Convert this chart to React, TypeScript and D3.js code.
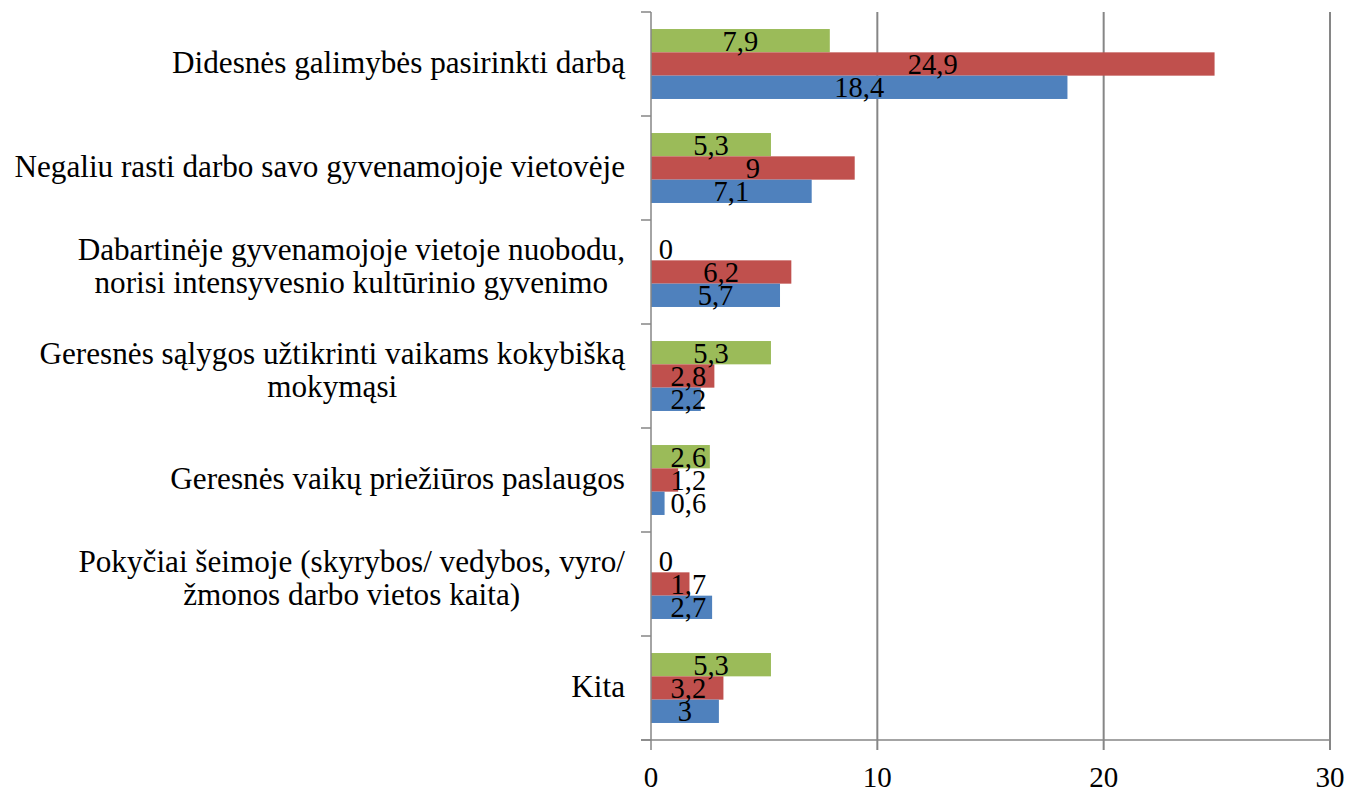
import React, { useRef, useEffect } from 'react';
import * as d3 from 'd3';

const W = 1346;
const H = 793;
const M = { top: 12, left: 651, right: 16, bottom: 53 };

const categories = [
  ['Didesnės galimybės pasirinkti darbą'],
  ['Negaliu rasti darbo savo gyvenamojoje vietovėje'],
  ['Dabartinėje gyvenamojoje vietoje nuobodu,', 'norisi intensyvesnio kultūrinio gyvenimo'],
  ['Geresnės sąlygos užtikrinti vaikams kokybišką', 'mokymąsi'],
  ['Geresnės vaikų priežiūros paslaugos'],
  ['Pokyčiai šeimoje (skyrybos/ vedybos, vyro/', 'žmonos darbo vietos kaita)'],
  ['Kita'],
];
const seriesKeys = ['green', 'red', 'blue'];
const seriesColors = ['#9BBB59', '#C0504D', '#4F81BD'];
const greenValues = [7.9, 5.3, 0, 5.3, 2.6, 0, 5.3];
const redValues = [24.9, 9, 6.2, 2.8, 1.2, 1.7, 3.2];
const blueValues = [18.4, 7.1, 5.7, 2.2, 0.6, 2.7, 3];
const xTicks = [0, 10, 20, 30];

const FONT = '"Liberation Serif", "Times New Roman", serif';

export default function App() {
  const svgRef = useRef<SVGSVGElement>(null);

  useEffect(() => {
    const svg = d3.select(svgRef.current);
    svg.selectAll('*').remove();

    const x = d3.scaleLinear().domain([0, 30]).range([M.left, W - M.right]);
    const catIdx = categories.map((_, i) => String(i));
    const y = d3.scaleBand().domain(catIdx).range([M.top, H - M.bottom]).padding(0);
    const yInner = d3.scaleBand().domain(seriesKeys).range([0, y.bandwidth()])
      .paddingInner(0).paddingOuter(0.73);
    const values = [greenValues, redValues, blueValues];
    const plotBottom = H - M.bottom;

    // gridlines
    svg.append('g').selectAll('line')
      .data(xTicks.slice(1))
      .join('line')
      .attr('x1', d => x(d)).attr('x2', d => x(d))
      .attr('y1', M.top).attr('y2', plotBottom + 10)
      .attr('stroke', '#868686').attr('stroke-width', 2);

    // bars
    seriesKeys.forEach((k, si) => {
      svg.append('g').selectAll('rect')
        .data(values[si])
        .join('rect')
        .attr('x', x(0))
        .attr('y', (_, i) => y(String(i))! + yInner(k)!)
        .attr('width', d => x(d) - x(0))
        .attr('height', yInner.bandwidth())
        .attr('fill', seriesColors[si]);
    });

    // axes
    svg.append('line')
      .attr('x1', x(0)).attr('x2', x(0))
      .attr('y1', M.top).attr('y2', plotBottom + 10)
      .attr('stroke', '#868686').attr('stroke-width', 1.5);
    svg.append('line')
      .attr('x1', x(0) - 10).attr('x2', x(30))
      .attr('y1', plotBottom).attr('y2', plotBottom)
      .attr('stroke', '#868686').attr('stroke-width', 1.5);
    svg.append('g').selectAll('line')
      .data(d3.range(categories.length + 1))
      .join('line')
      .attr('x1', x(0) - 10).attr('x2', x(0))
      .attr('y1', i => M.top + i * y.step()).attr('y2', i => M.top + i * y.step())
      .attr('stroke', '#868686').attr('stroke-width', 1.5);

    // x tick labels
    svg.append('g').selectAll('text')
      .data(xTicks)
      .join('text')
      .attr('x', d => x(d)).attr('y', plotBottom + 47)
      .attr('text-anchor', 'middle')
      .attr('font-family', FONT).attr('font-size', 29)
      .text(d => d);

    // data labels, centred in the bar but kept clear of the axis
    seriesKeys.forEach((k, si) => {
      const t = svg.append('g').selectAll('text')
        .data(values[si])
        .join('text')
        .attr('y', (_, i) => y(String(i))! + yInner(k)! + yInner.bandwidth() / 2 + 10)
        .attr('text-anchor', 'middle')
        .attr('font-family', FONT).attr('font-size', 28.5)
        .text(d => String(d).replace('.', ','));
      t.each(function (d) {
        const el = this as SVGTextElement;
        const tw = el.getComputedTextLength();
        const cx = Math.max((x(0) + x(d)) / 2, x(0) + tw * 1.05);
        d3.select(el).attr('x', cx);
      });
    });

    // category labels (multi-line blocks, lines centred, block right-aligned)
    const lineH = 33;
    categories.forEach((lines, i) => {
      const cy = y(String(i))! + y.bandwidth() / 2;
      const shift = lines.length > 1 ? 4.5 : 9;
      const g = svg.append('g');
      const texts = g.selectAll('text')
        .data(lines)
        .join('text')
        .attr('y', (_, j) => cy + (j - (lines.length - 1) / 2) * lineH + shift)
        .attr('font-family', FONT).attr('font-size', 31.2)
        .attr('text-anchor', 'middle')
        .text(d => d);
      let maxW = 0;
      texts.each(function () {
        maxW = Math.max(maxW, (this as SVGTextElement).getComputedTextLength());
      });
      texts.attr('x', 625 - maxW / 2);
    });
  }, []);

  return (
    <svg ref={svgRef} width={W} height={H}
      style={{ position: 'absolute', left: 0, top: 0, background: '#fff' }} />
  );
}
